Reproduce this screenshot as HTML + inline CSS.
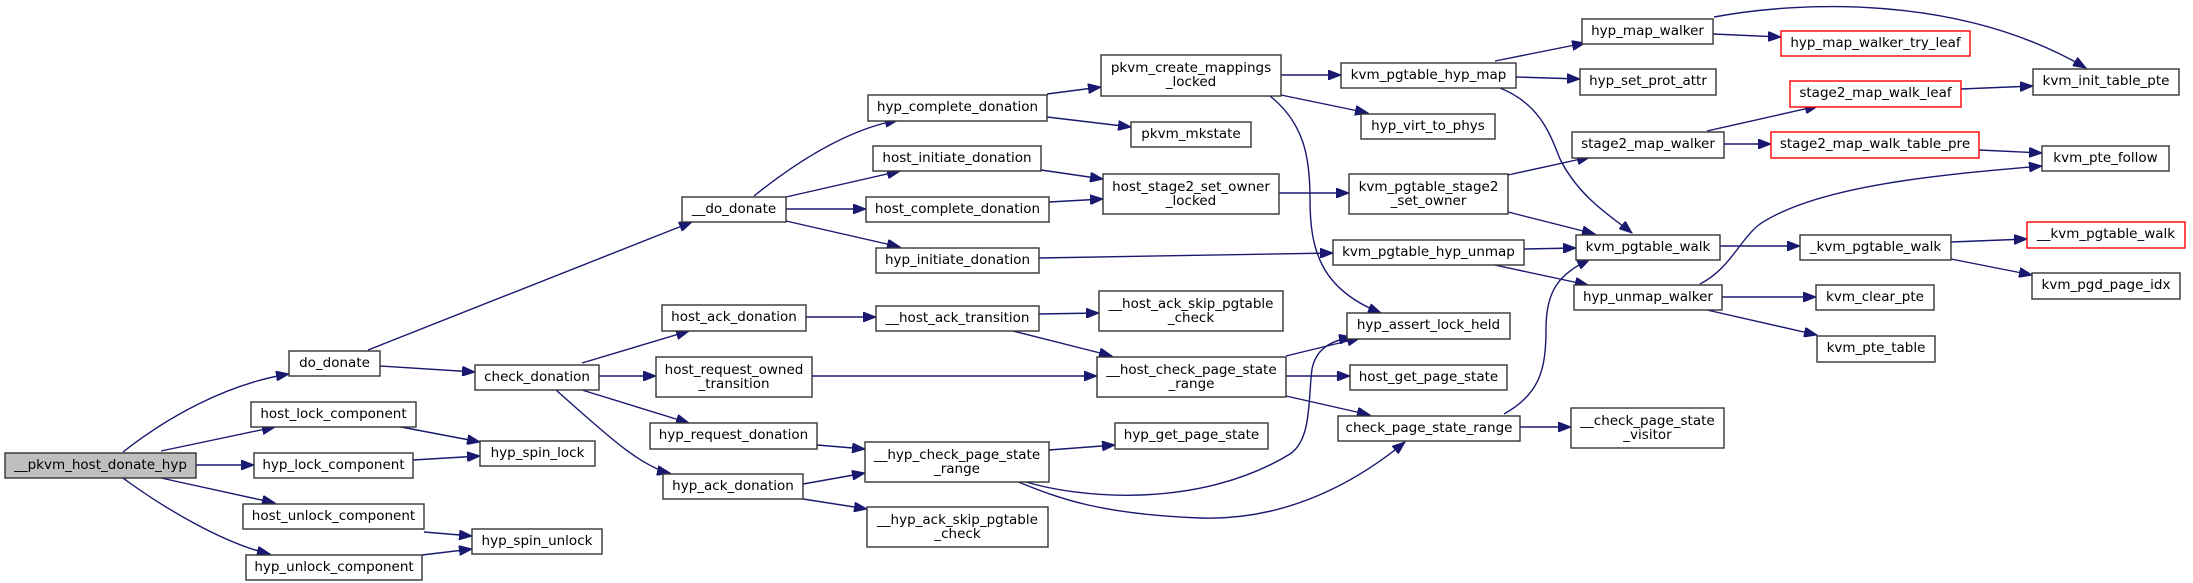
<!DOCTYPE html>
<html><head><meta charset="utf-8"><style>
html,body{margin:0;padding:0;background:#fff;}
svg{display:block;}
text{font-family:"DejaVu Sans","Liberation Sans",sans-serif;font-size:13.5px;fill:#000;text-anchor:middle;}
.n{fill:#fff;stroke:#333;stroke-width:1.4;}
.r{fill:#fff;stroke:#ff0000;stroke-width:1.4;}
.g{fill:#bfbfbf;stroke:#333;stroke-width:1.4;}
.e{fill:none;stroke:#191970;stroke-width:1.4;marker-end:url(#ah);}
</style></head><body>
<svg width="2193" height="583" viewBox="0 0 2193 583" xmlns="http://www.w3.org/2000/svg">
<defs><marker id="ah" markerUnits="userSpaceOnUse" markerWidth="14" markerHeight="10" refX="13" refY="5" orient="auto"><path d="M0,0 L13,5 L0,10 Z" fill="#191970" stroke="#191970"/></marker></defs>
<g transform="translate(0,-1)">
<path class="e" d="M123,453 C165,420 225,385 289,375"/>
<path class="e" d="M161,452 L275,428"/>
<path class="e" d="M196,466 L254,466"/>
<path class="e" d="M161,479 L275,504"/>
<path class="e" d="M123,479 C165,510 225,545 270,555"/>
<path class="e" d="M401,428 L480,443"/>
<path class="e" d="M413,461 L480,457"/>
<path class="e" d="M424,533 L472,537"/>
<path class="e" d="M422,556 L472,550"/>
<path class="e" d="M368,351 L692,223"/>
<path class="e" d="M380,367 L475,373"/>
<path class="e" d="M582,364 L689,332"/>
<path class="e" d="M599,377 L656,377"/>
<path class="e" d="M582,391 L689,424"/>
<path class="e" d="M556,391 C600,430 640,468 670,474"/>
<path class="e" d="M754,197 C800,160 850,130 898,121"/>
<path class="e" d="M786,198 L900,172"/>
<path class="e" d="M786,210 L866,210"/>
<path class="e" d="M786,222 L900,248"/>
<path class="e" d="M1047,95 L1101,88"/>
<path class="e" d="M1047,118 L1131,128"/>
<path class="e" d="M1041,171 L1103,180"/>
<path class="e" d="M1049,203 L1103,200"/>
<path class="e" d="M1039,259 L1333,254"/>
<path class="e" d="M806,318 L876,318"/>
<path class="e" d="M812,377 L1097,377"/>
<path class="e" d="M817,446 L865,450"/>
<path class="e" d="M803,485 L865,474"/>
<path class="e" d="M803,500 L867,510"/>
<path class="e" d="M1039,315 L1099,314"/>
<path class="e" d="M1009,331 L1112,357"/>
<path class="e" d="M1049,451 L1115,446"/>
<path class="e" d="M1023,482 C1080,500 1200,510 1290,455 C1312,440 1308,400 1312,370 C1316,350 1330,342 1352,338"/>
<path class="e" d="M1016,482 C1060,500 1100,515 1200,519 C1290,522 1360,480 1405,443"/>
<path class="e" d="M1286,357 L1360,339"/>
<path class="e" d="M1286,377 L1350,377"/>
<path class="e" d="M1286,397 L1370,416"/>
<path class="e" d="M1281,76 L1341,76"/>
<path class="e" d="M1281,96 L1368,114"/>
<path class="e" d="M1270,97 C1305,125 1310,160 1310,200 C1310,250 1320,290 1381,314"/>
<path class="e" d="M1279,194 L1349,194"/>
<path class="e" d="M1495,62 L1585,44"/>
<path class="e" d="M1516,78 L1580,80"/>
<path class="e" d="M1500,89 C1540,105 1550,135 1560,160 C1580,200 1615,220 1632,234"/>
<path class="e" d="M1713,35 L1781,38"/>
<path class="e" d="M1714,18 C1800,2 1960,-5 2086,69"/>
<path class="e" d="M1508,176 L1590,158"/>
<path class="e" d="M1508,213 L1595,235"/>
<path class="e" d="M1524,250 L1576,249"/>
<path class="e" d="M1490,265 L1588,286"/>
<path class="e" d="M1504,415 C1540,395 1546,370 1546,330 C1546,290 1560,275 1590,260"/>
<path class="e" d="M1520,428 L1571,428"/>
<path class="e" d="M1707,132 L1818,107"/>
<path class="e" d="M1724,145 L1771,145"/>
<path class="e" d="M1961,90 L2033,87"/>
<path class="e" d="M1979,151 L2042,154"/>
<path class="e" d="M1700,285 C1730,270 1740,240 1760,225 C1820,185 1950,175 2042,167"/>
<path class="e" d="M1720,247 L1800,247"/>
<path class="e" d="M1951,243 L2027,240"/>
<path class="e" d="M1951,260 L2032,276"/>
<path class="e" d="M1722,298 L1816,298"/>
<path class="e" d="M1707,311 L1817,336"/>
</g>
<rect class="g" x="5" y="453" width="191" height="25"/><text x="100.5" y="469">__pkvm_host_donate_hyp</text>
<rect class="n" x="289" y="351" width="91" height="25"/><text x="334.5" y="367">do_donate</text>
<rect class="n" x="251" y="402" width="165" height="25"/><text x="333.5" y="418">host_lock_component</text>
<rect class="n" x="254" y="453" width="159" height="25"/><text x="333.5" y="469">hyp_lock_component</text>
<rect class="n" x="243" y="504" width="181" height="25"/><text x="333.5" y="520">host_unlock_component</text>
<rect class="n" x="246" y="555" width="176" height="25"/><text x="334" y="571">hyp_unlock_component</text>
<rect class="n" x="480" y="441" width="115" height="25"/><text x="537.5" y="457">hyp_spin_lock</text>
<rect class="n" x="472" y="529" width="130" height="25"/><text x="537" y="545">hyp_spin_unlock</text>
<rect class="n" x="475" y="365" width="124" height="25"/><text x="537" y="381">check_donation</text>
<rect class="n" x="682" y="197" width="104" height="25"/><text x="734" y="213">__do_donate</text>
<rect class="n" x="662" y="305" width="144" height="26"/><text x="734" y="321">host_ack_donation</text>
<rect class="n" x="656" y="357" width="156" height="40"/><text x="734" y="374">host_request_owned</text><text x="734" y="388">_transition</text>
<rect class="n" x="650" y="423" width="167" height="26"/><text x="733.5" y="439">hyp_request_donation</text>
<rect class="n" x="663" y="474" width="140" height="25"/><text x="733" y="490">hyp_ack_donation</text>
<rect class="n" x="868" y="95" width="179" height="26"/><text x="957.5" y="111">hyp_complete_donation</text>
<rect class="n" x="873" y="146" width="168" height="25"/><text x="957" y="162">host_initiate_donation</text>
<rect class="n" x="866" y="197" width="183" height="25"/><text x="957.5" y="213">host_complete_donation</text>
<rect class="n" x="876" y="248" width="163" height="25"/><text x="957.5" y="264">hyp_initiate_donation</text>
<rect class="n" x="876" y="306" width="163" height="25"/><text x="957.5" y="322">__host_ack_transition</text>
<rect class="n" x="865" y="442" width="184" height="40"/><text x="957" y="459">__hyp_check_page_state</text><text x="957" y="473">_range</text>
<rect class="n" x="867" y="507" width="181" height="40"/><text x="957.5" y="524">__hyp_ack_skip_pgtable</text><text x="957.5" y="538">_check</text>
<rect class="n" x="1101" y="55" width="180" height="41"/><text x="1191" y="72">pkvm_create_mappings</text><text x="1191" y="86">_locked</text>
<rect class="n" x="1131" y="122" width="120" height="25"/><text x="1191" y="138">pkvm_mkstate</text>
<rect class="n" x="1103" y="174" width="176" height="40"/><text x="1191" y="191">host_stage2_set_owner</text><text x="1191" y="205">_locked</text>
<rect class="n" x="1099" y="291" width="184" height="40"/><text x="1191" y="308">__host_ack_skip_pgtable</text><text x="1191" y="322">_check</text>
<rect class="n" x="1097" y="357" width="189" height="40"/><text x="1191.5" y="374">__host_check_page_state</text><text x="1191.5" y="388">_range</text>
<rect class="n" x="1115" y="423" width="153" height="26"/><text x="1191.5" y="439">hyp_get_page_state</text>
<rect class="n" x="1341" y="63" width="175" height="25"/><text x="1428.5" y="79">kvm_pgtable_hyp_map</text>
<rect class="n" x="1361" y="114" width="134" height="25"/><text x="1428" y="130">hyp_virt_to_phys</text>
<rect class="n" x="1349" y="174" width="159" height="40"/><text x="1428.5" y="191">kvm_pgtable_stage2</text><text x="1428.5" y="205">_set_owner</text>
<rect class="n" x="1333" y="240" width="191" height="25"/><text x="1428.5" y="256">kvm_pgtable_hyp_unmap</text>
<rect class="n" x="1347" y="313" width="163" height="26"/><text x="1428.5" y="329">hyp_assert_lock_held</text>
<rect class="n" x="1350" y="365" width="157" height="25"/><text x="1428.5" y="381">host_get_page_state</text>
<rect class="n" x="1338" y="416" width="182" height="25"/><text x="1429" y="432">check_page_state_range</text>
<rect class="n" x="1582" y="19" width="131" height="25"/><text x="1647.5" y="35">hyp_map_walker</text>
<rect class="r" x="1781" y="31" width="189" height="25"/><text x="1875.5" y="47">hyp_map_walker_try_leaf</text>
<rect class="n" x="1580" y="69" width="136" height="26"/><text x="1648" y="85">hyp_set_prot_attr</text>
<rect class="r" x="1790" y="81" width="171" height="26"/><text x="1875.5" y="97">stage2_map_walk_leaf</text>
<rect class="n" x="2033" y="69" width="146" height="26"/><text x="2106" y="85">kvm_init_table_pte</text>
<rect class="n" x="1572" y="132" width="152" height="26"/><text x="1648" y="148">stage2_map_walker</text>
<rect class="r" x="1771" y="132" width="208" height="26"/><text x="1875" y="148">stage2_map_walk_table_pre</text>
<rect class="n" x="2042" y="146" width="127" height="25"/><text x="2105.5" y="162">kvm_pte_follow</text>
<rect class="n" x="1576" y="235" width="144" height="25"/><text x="1648" y="251">kvm_pgtable_walk</text>
<rect class="n" x="1800" y="235" width="151" height="25"/><text x="1875.5" y="251">_kvm_pgtable_walk</text>
<rect class="r" x="2027" y="222" width="158" height="26"/><text x="2106" y="238">__kvm_pgtable_walk</text>
<rect class="n" x="2032" y="273" width="148" height="26"/><text x="2106" y="289">kvm_pgd_page_idx</text>
<rect class="n" x="1574" y="285" width="148" height="25"/><text x="1648" y="301">hyp_unmap_walker</text>
<rect class="n" x="1816" y="285" width="118" height="25"/><text x="1875" y="301">kvm_clear_pte</text>
<rect class="n" x="1817" y="336" width="118" height="26"/><text x="1876" y="352">kvm_pte_table</text>
<rect class="n" x="1571" y="408" width="153" height="40"/><text x="1647.5" y="425">__check_page_state</text><text x="1647.5" y="439">_visitor</text>
</svg>
</body></html>
